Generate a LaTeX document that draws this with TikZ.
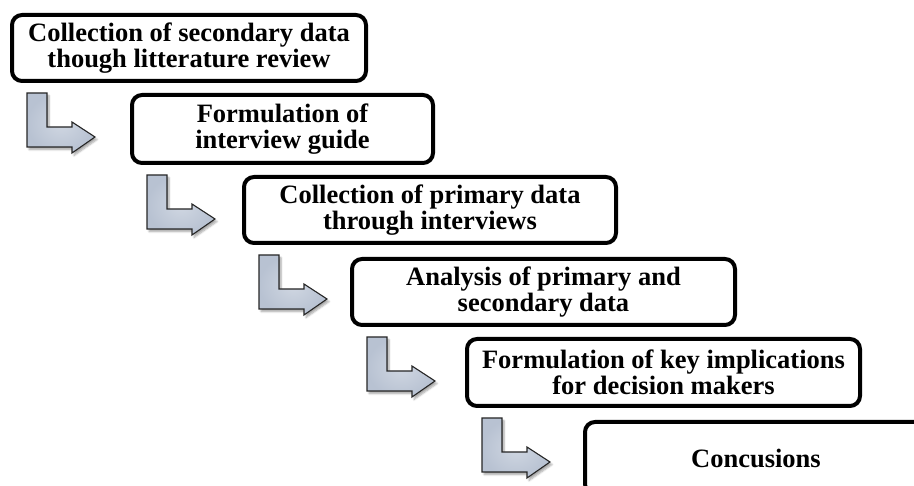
\documentclass[tikz,border=0pt]{standalone}
\usepackage{fontspec}
\setmainfont{Liberation Serif}
\usetikzlibrary{calc,shadows.blur}
\definecolor{stepblue}{RGB}{184,194,210}
\definecolor{stepblueL}{RGB}{208,215,226}
\tikzset{
  stepbox/.style={draw, line width=4pt, rounded corners=10pt, fill=white,
    anchor=north west, align=center, inner sep=0pt,
    font=\fontsize{26.5}{26}\selectfont\bfseries},
  arrowfill/.style={draw=black!85, line width=1.1pt, line join=miter,
    inner color=stepblueL, outer color=stepblue,
    blur shadow={shadow xshift=2pt, shadow yshift=-2.5pt, shadow blur steps=6, shadow opacity=35}},
  lbend/.pic={
    \path[arrowfill] (0,0) -- (20,0) -- (20,34) -- (45,34) -- (45,29)
      -- (68,44) -- (45,60) -- (45,54) -- (0,54) -- cycle;
  }
}
\begin{document}
\begin{tikzpicture}[x=1pt,y=-1pt]
  \useasboundingbox (0,0) rectangle (914,486);
  \clip (0,0) rectangle (914,486);

  % process steps
  \node[stepbox, minimum width=354pt, minimum height=66pt] (b1) at (10,13)
    {Collection of secondary data\\though litterature review};
  \node[stepbox, minimum width=301pt, minimum height=68pt] (b2) at (130,93)
    {Formulation of\\interview guide};
  \node[stepbox, minimum width=372pt, minimum height=66pt] (b3) at (242,175)
    {Collection of primary data\\through interviews};
  \node[stepbox, minimum width=383pt, minimum height=66pt] (b4) at (350,257)
    {Analysis of primary and\\secondary data};
  \node[stepbox, minimum width=393pt, minimum height=67pt] (b5) at (465,337)
    {Formulation of key implications\\for decision makers};
  % last step runs past the right and bottom edges
  \node[stepbox, minimum width=342pt, minimum height=72pt] (b6) at (583,420)
    {Concusions};

  % bent arrows leading from one step to the next
  \foreach \b in {b1,b2,b3,b4,b5}{
    \pic at ($(\b.south west)+(17,10)$) {lbend};
  }
\end{tikzpicture}
\end{document}
